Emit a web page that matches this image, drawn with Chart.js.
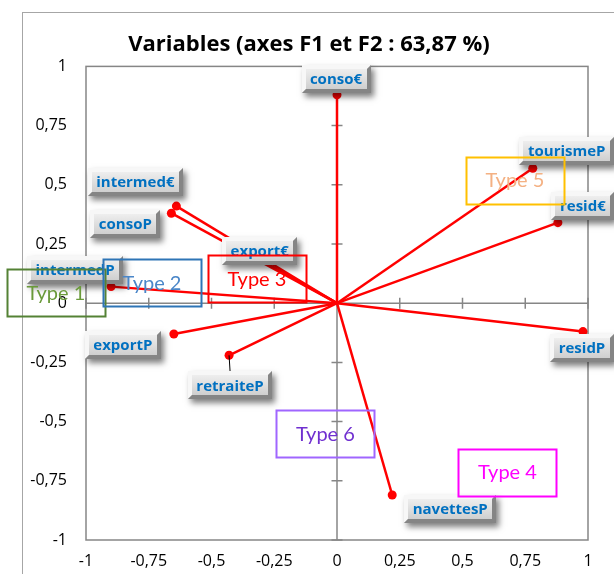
<!DOCTYPE html>
<html>
<head>
<meta charset="utf-8">
<script src="https://cdn.jsdelivr.net/npm/chart.js"></script>
<style>
  html, body { margin: 0; padding: 0; background: #fff; }
  #wrap { width: 614px; height: 574px; }
</style>
</head>
<body>
<div id="wrap"><canvas id="chart" width="614" height="574"></canvas></div>
<script>
// Variables (coordinates on F1 / F2)
var varNames = ['conso€', 'tourismeP', 'resid€', 'residP', 'navettesP', 'retraiteP', 'exportP', 'intermedP', 'intermed€', 'consoP', 'export€'];
var f1Values = [0.00, 0.78, 0.88, 0.98, 0.22, -0.43, -0.65, -0.90, -0.64, -0.66, -0.30];
var f2Values = [0.88, 0.57, 0.34, -0.12, -0.81, -0.22, -0.13, 0.07, 0.41, 0.38, 0.18];

// axis ticks
var tickValues = [-1, -0.75, -0.5, -0.25, 0, 0.25, 0.5, 0.75, 1];

// group annotations
var typeNames = ['Type 1', 'Type 2', 'Type 3', 'Type 4', 'Type 5', 'Type 6'];
var typeX = [-1.12, -0.737, -0.319, 0.679, 0.709, -0.046];
var typeY = [0.042, 0.085, 0.101, -0.717, 0.518, -0.554];

// layout / styling (not data)
var labelOffsets = [[-1, -16], [34, -17], [25, -17], [-1, 16], [58, 14], [1, 30], [-51, 11], [-36, -17], [-41, -24], [-46, 11], [-2, -10]];
var typeBorderColors = ['#548235', '#2E75B6', '#FF0000', '#FF00FF', '#FFC000', '#A066FF'];
var typeTextColors = ['#6A9A3A', '#4A86C8', '#FF0000', '#FF00FF', '#F4B183', '#7030D0'];

function fmt(v) {
    return String(v).replace('.', ',');
}

// beveled grey "button" label
function drawButton(ctx, cx, cy, text) {
    ctx.save();
    ctx.font = 'bold 15px "Open Sans"';
    var w = Math.round(ctx.measureText(text).width + 17);
    var h = 28;
    var x = Math.round(cx - w / 2), y = Math.round(cy - h / 2);
    var b = 4;

    ctx.shadowColor = 'rgba(0,0,0,0.5)';
    ctx.shadowBlur = 6;
    ctx.shadowOffsetX = 3;
    ctx.shadowOffsetY = 4;
    ctx.fillStyle = '#C8C8C8';
    ctx.fillRect(x, y, w, h);
    ctx.shadowColor = 'transparent';

    // top + left bevel
    ctx.fillStyle = '#F7F7F7';
    ctx.beginPath();
    ctx.moveTo(x, y); ctx.lineTo(x + w, y); ctx.lineTo(x + w - b, y + b);
    ctx.lineTo(x + b, y + b); ctx.lineTo(x + b, y + h - b); ctx.lineTo(x, y + h);
    ctx.closePath(); ctx.fill();
    // bottom + right bevel
    ctx.fillStyle = '#858585';
    ctx.beginPath();
    ctx.moveTo(x + w, y); ctx.lineTo(x + w, y + h); ctx.lineTo(x, y + h);
    ctx.lineTo(x + b, y + h - b); ctx.lineTo(x + w - b, y + h - b); ctx.lineTo(x + w - b, y + b);
    ctx.closePath(); ctx.fill();
    // face
    var g = ctx.createLinearGradient(0, y + b, 0, y + h - b);
    g.addColorStop(0, '#EEEEEE');
    g.addColorStop(1, '#CFCFCF');
    ctx.fillStyle = g;
    ctx.fillRect(x + b, y + b, w - 2 * b, h - 2 * b);

    ctx.fillStyle = '#0070C0';
    ctx.textAlign = 'center';
    ctx.textBaseline = 'middle';
    ctx.fillText(text, cx, cy + 1);
    ctx.restore();
}

var decorPlugin = {
    id: 'decor',
    afterLayout: function(chart) {
        // the title sits centred on the whole canvas, not the padded area
        if (chart.titleBlock) {
            chart.titleBlock.left += 30;
        }
    },
    beforeDatasetsDraw: function(chart) {
        var ctx = chart.ctx, a = chart.chartArea;
        var xs = chart.scales.x, ys = chart.scales.y;
        ctx.save();
        // outer chart border
        ctx.strokeStyle = '#A6A6A6';
        ctx.lineWidth = 1;
        ctx.strokeRect(22.5, 12.5, 700, 700);
        // plot frame
        ctx.strokeStyle = '#868686';
        ctx.lineWidth = 1.5;
        ctx.strokeRect(a.left, a.top, a.right - a.left, a.bottom - a.top);
        // centre axes
        var x0 = xs.getPixelForValue(0), y0 = ys.getPixelForValue(0);
        ctx.beginPath();
        ctx.moveTo(x0, a.top); ctx.lineTo(x0, a.bottom);
        ctx.moveTo(a.left, y0); ctx.lineTo(a.right, y0);
        tickValues.forEach(function(v) {
            var px = xs.getPixelForValue(v), py = ys.getPixelForValue(v);
            ctx.moveTo(px, y0 - 5.5); ctx.lineTo(px, y0 + 5.5);
            ctx.moveTo(x0 - 5.5, py); ctx.lineTo(x0 + 5.5, py);
        });
        ctx.stroke();
        ctx.restore();
    },
    afterDatasetsDraw: function(chart) {
        var ctx = chart.ctx;
        var xs = chart.scales.x, ys = chart.scales.y;
        // leader line for retraiteP
        var ri = varNames.indexOf('retraiteP');
        var rx = xs.getPixelForValue(f1Values[ri]), ry = ys.getPixelForValue(f2Values[ri]);
        ctx.save();
        ctx.strokeStyle = '#000';
        ctx.lineWidth = 1;
        ctx.beginPath();
        ctx.moveTo(rx, ry); ctx.lineTo(rx + 1, ry + labelOffsets[ri][1] - 14);
        ctx.stroke();
        ctx.restore();

        varNames.forEach(function(n, i) {
            var px = xs.getPixelForValue(f1Values[i]);
            var py = ys.getPixelForValue(f2Values[i]);
            drawButton(ctx, px + labelOffsets[i][0], py + labelOffsets[i][1], n);
        });

        // Type boxes
        ctx.save();
        typeNames.forEach(function(t, i) {
            var cx = xs.getPixelForValue(typeX[i]), cy = ys.getPixelForValue(typeY[i]);
            ctx.strokeStyle = typeBorderColors[i];
            ctx.lineWidth = 2;
            ctx.strokeRect(Math.round(cx - 49) + 0.5, Math.round(cy - 24) + 0.5, 98, 47);
            ctx.fillStyle = typeTextColors[i];
            ctx.font = '20px Lato';
            ctx.textAlign = 'center';
            ctx.textBaseline = 'middle';
            ctx.fillText(t, cx, cy);
        });
        ctx.restore();
    }
};

var datasets = varNames.map(function(n, i) {
    return {
        label: n,
        data: [{ x: 0, y: 0 }, { x: f1Values[i], y: f2Values[i] }],
        showLine: true,
        borderColor: '#FF0000',
        borderWidth: 2.5,
        pointRadius: [0, 4.5],
        pointBackgroundColor: '#FF0000',
        pointBorderWidth: 0
    };
});

new Chart(document.getElementById('chart'), {
    type: 'scatter',
    data: { datasets: datasets },
    plugins: [decorPlugin],
    options: {
        responsive: false,
        animation: false,
        layout: { padding: { left: 0, right: 26, top: 0, bottom: 0 } },
        plugins: {
            legend: { display: false },
            tooltip: { enabled: false },
            title: {
                display: true,
                text: 'Variables (axes F1 et F2 : 63,87 %)',
                color: '#000',
                font: { family: 'Open Sans', size: 22, weight: 'bold' },
                padding: { top: 32, bottom: 8 }
            }
        },
        scales: {
            x: {
                type: 'linear',
                min: -1, max: 1,
                afterBuildTicks: function(axis) { axis.ticks = tickValues.map(function(v) { return { value: v }; }); },
                ticks: { callback: fmt, color: '#000', font: { family: 'Open Sans', size: 16 }, padding: 12, maxRotation: 0 },
                grid: { display: false, drawTicks: false },
                border: { display: false },
                afterFit: function(axis) { axis.height = 34; }
            },
            y: {
                type: 'linear',
                min: -1, max: 1,
                afterBuildTicks: function(axis) { axis.ticks = tickValues.map(function(v) { return { value: v }; }); },
                ticks: { callback: fmt, color: '#000', font: { family: 'Open Sans', size: 16 }, padding: 19 },
                grid: { display: false, drawTicks: false },
                border: { display: false },
                afterFit: function(axis) { axis.width = 86; }
            }
        }
    }
});
</script>
</body>
</html>
